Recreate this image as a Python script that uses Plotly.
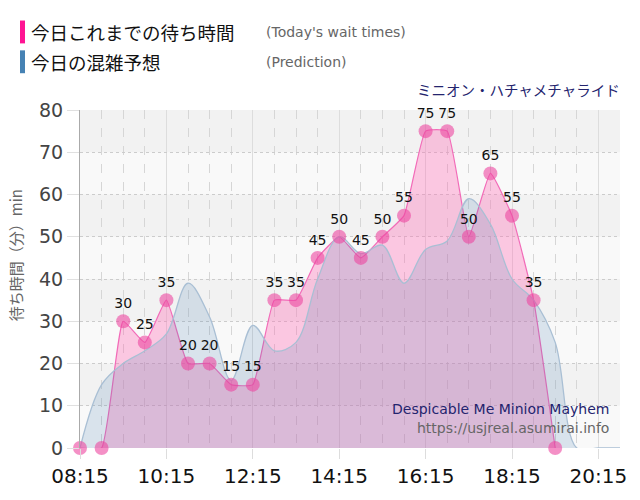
import plotly.graph_objects as go

# ---- data ----
actual_times = ["08:15", "08:45", "09:15", "09:45", "10:15", "10:45", "11:15", "11:45",
                "12:15", "12:45", "13:15", "13:45", "14:15", "14:45", "15:15", "15:45",
                "16:15", "16:45", "17:15", "17:45", "18:15", "18:45", "19:15"]
actual_wait = [0, 0, 30, 25, 35, 20, 20, 15, 15, 35, 35, 45, 50, 45, 50, 55,
               75, 75, 50, 65, 55, 35, 0]

pred_times = ["08:15", "08:45", "09:15", "09:45", "10:15", "10:45", "11:15", "11:45",
              "12:15", "12:45", "13:15", "13:45", "14:15", "14:45", "15:15", "15:45",
              "16:15", "16:45", "17:15", "17:45", "18:15", "18:45", "19:15", "19:45",
              "20:15", "20:45"]
pred_wait = [0, 15, 20, 23, 27, 39, 31, 16, 29, 23, 25, 40, 50, 46, 48, 39,
             47, 49, 59, 53, 40, 35, 25, 0, 0, 0]

x_ticks = ["08:15", "10:15", "12:15", "14:15", "16:15", "18:15", "20:15"]
y_ticks = [0, 10, 20, 30, 40, 50, 60, 70, 80]

DAY = "2024-01-01 "
def ts(t):
    return DAY + t + ":00"

W, H = 640, 500
L, R, T, B = 80, 20, 110, 50
PW, PH = W - L - R, H - T - B

def px(x):
    return (x - L) / PW

def py(y):
    return (H - B - y) / PH

fig = go.Figure()

# actual (pink) line + fill
fig.add_trace(go.Scatter(
    x=[ts(t) for t in actual_times], y=actual_wait,
    mode="lines", line=dict(color="#f26bb8", width=1.2, shape="spline", smoothing=0.4),
    fill="tozeroy", fillcolor="rgba(255,105,180,0.35)",
    hoverinfo="skip", showlegend=False))

# prediction (blue) line + fill
fig.add_trace(go.Scatter(
    x=[ts(t) for t in pred_times], y=pred_wait,
    mode="lines", line=dict(color="#a9bfd4", width=1.3, shape="spline", smoothing=1.0),
    fill="tozeroy", fillcolor="rgba(70,130,180,0.18)",
    cliponaxis=False, hoverinfo="skip", showlegend=False))

# actual markers + labels
labels = [str(v) if v > 0 else "" for v in actual_wait]
fig.add_trace(go.Scatter(
    x=[ts(t) for t in actual_times], y=actual_wait,
    mode="markers+text", text=labels, textposition="top center",
    textfont=dict(family="DejaVu Sans", size=14, color="#111"),
    marker=dict(size=14, color="rgba(236,70,160,0.6)", line=dict(width=0)),
    cliponaxis=False, hoverinfo="skip", showlegend=False))

shapes = []
# alternating bands
for lo in (10, 30, 50, 70):
    shapes.append(dict(type="rect", xref="paper", yref="y", x0=0, x1=1, y0=lo, y1=lo + 10,
                       fillcolor="#f2f2f2", line=dict(width=0), layer="below"))
# legend bars
shapes.append(dict(type="rect", xref="paper", yref="paper", x0=px(20), x1=px(25),
                   y0=py(43), y1=py(20), fillcolor="#ff1493", line=dict(width=0)))
shapes.append(dict(type="rect", xref="paper", yref="paper", x0=px(20), x1=px(25),
                   y0=py(73), y1=py(50), fillcolor="#4682b4", line=dict(width=0)))

JP = "Noto Sans CJK JP"
ann = []
ann.append(dict(text="今日これまでの待ち時間", x=px(29), y=py(32), xref="paper", yref="paper",
                xanchor="left", yanchor="middle", showarrow=False,
                font=dict(family=JP, size=18.5, color="#111")))
ann.append(dict(text="(Today's wait times)", x=px(264), y=py(32), xref="paper", yref="paper",
                xanchor="left", yanchor="middle", showarrow=False,
                font=dict(family="DejaVu Sans", size=14, color="#666")))
ann.append(dict(text="今日の混雑予想", x=px(29), y=py(62), xref="paper", yref="paper",
                xanchor="left", yanchor="middle", showarrow=False,
                font=dict(family=JP, size=18.5, color="#111")))
ann.append(dict(text="(Prediction)", x=px(264), y=py(62), xref="paper", yref="paper",
                xanchor="left", yanchor="middle", showarrow=False,
                font=dict(family="DejaVu Sans", size=14, color="#666")))
ann.append(dict(text="ミニオン・ハチャメチャライド", x=px(622), y=py(89), xref="paper", yref="paper",
                xanchor="right", yanchor="middle", showarrow=False,
                font=dict(family=JP, size=14.5, color="#24246e")))
ann.append(dict(text="待ち時間（分）min", x=px(15), y=py(256), xref="paper", yref="paper",
                xanchor="center", yanchor="middle", showarrow=False, textangle=-90,
                font=dict(family=JP, size=15, color="#666")))
ann.append(dict(text="Despicable Me Minion Mayhem", x=px(611), y=py(411), xref="paper", yref="paper",
                xanchor="right", yanchor="middle", showarrow=False,
                font=dict(family="DejaVu Sans", size=14, color="#24246e")))
ann.append(dict(text="https://usjreal.asumirai.info", x=px(611), y=py(430), xref="paper", yref="paper",
                xanchor="right", yanchor="middle", showarrow=False,
                font=dict(family="DejaVu Sans", size=14, color="#666")))

fig.update_layout(
    width=W, height=H, margin=dict(l=L, r=R, t=T, b=B, pad=0),
    paper_bgcolor="white", plot_bgcolor="#f9f9f9",
    shapes=shapes, annotations=ann, showlegend=False,
    xaxis=dict(type="date", range=[ts("08:15"), ts("20:45")],
               tickvals=[ts(t) for t in x_ticks], ticktext=x_ticks,
               tickfont=dict(family="DejaVu Sans", size=20, color="#111"),
               showgrid=True, gridcolor="#dddddd", gridwidth=1,
               ticks="outside", ticklen=10, tickcolor="#dddddd",
               minor=dict(dtick=30 * 60 * 1000, tick0=ts("08:15"), showgrid=True,
                          gridcolor="#d6d6d6", griddash="dash", gridwidth=1),
               showline=False, zeroline=False, fixedrange=True),
    yaxis=dict(range=[0, 80], tickvals=y_ticks,
               tickfont=dict(family="DejaVu Sans", size=19, color="#444"),
               showgrid=True, gridcolor="#cccccc", griddash="dot", gridwidth=1,
               ticks="outside", ticklen=12, tickcolor="#e0e0e0",
               showline=True, linecolor="#aaaaaa", linewidth=1,
               zeroline=False, fixedrange=True),
)

fig.write_html("out.html")
